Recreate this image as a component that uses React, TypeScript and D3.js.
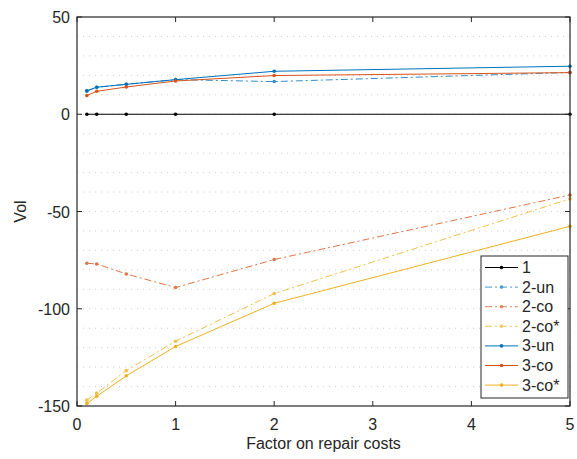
import React from "react";
import * as d3 from "d3";

const xValues = [0.1, 0.2, 0.5, 1, 2, 5];
const seriesNames = ["1", "2-un", "2-co", "2-co*", "3-un", "3-co", "3-co*"];
const s1 = [0, 0, 0, 0, 0, 0];
const s2un = [12.0, 13.9, 15.4, 17.8, 16.8, 21.5];
const s2co = [-76.6, -77.0, -82.1, -89.1, -74.7, -41.5];
const s2coStar = [-147.0, -143.4, -131.8, -116.7, -92.2, -43.5];
const s3un = [12.0, 13.9, 15.4, 17.8, 22.1, 24.7];
const s3co = [9.6, 11.8, 14.0, 17.1, 19.9, 21.4];
const s3coStar = [-148.7, -145.0, -134.5, -119.4, -97.2, -57.6];
const xTicks = [0, 1, 2, 3, 4, 5];
const yTicks = [-150, -100, -50, 0, 50];
const yMinor = d3.range(-140, 50, 10);

const seriesValues = [s1, s2un, s2co, s2coStar, s3un, s3co, s3coStar];
const colors = ["#000000", "#0072BD", "#D95319", "#EDB120", "#0072BD", "#D95319", "#EDB120"];
const dashed = [false, true, true, true, false, false, false];

export default function App() {
  const W = 577, H = 459;
  const L = 77, R = 570, T = 17, B = 406;
  const x = d3.scaleLinear().domain([0, 5]).range([L, R]);
  const y = d3.scaleLinear().domain([-150, 50]).range([B, T]);
  const line = d3.line<number>().x((_, i) => x(xValues[i])).y((d) => y(d));
  const axisColor = "#262626";
  const font = "'Liberation Sans', Arial, Helvetica, sans-serif";
  const tl = 5;

  const legX = 481, legY = 256, legW = 87, legH = 142;
  const rowH = 19.6;

  return (
    <svg width={W} height={H} style={{ position: "absolute", left: 0, top: 0, background: "#fff" }} fontFamily={font}>
      <rect x={0} y={0} width={W} height={H} fill="#fff" />
      {yMinor.map((v) => (
        <line key={"g" + v} x1={L} x2={R} y1={y(v)} y2={y(v)} stroke="#cfcfcf" strokeWidth={1} strokeDasharray="1,5" />
      ))}
      {seriesValues.map((vals, si) => (
        <g key={"s" + si} opacity={dashed[si] ? 0.8 : 1}>
          <path d={line(vals) || ""} fill="none" stroke={colors[si]} strokeWidth={1}
            strokeDasharray={dashed[si] ? "7,3,2,3" : undefined} />
          {vals.map((v, i) => (
            <circle key={i} cx={x(xValues[i])} cy={y(v)} r={1.8} fill={colors[si]} />
          ))}
        </g>
      ))}
      <rect x={L} y={T} width={R - L} height={B - T} fill="none" stroke={axisColor} strokeWidth={1.2} />
      {xTicks.map((t) => (
        <g key={"xt" + t}>
          <line x1={x(t)} x2={x(t)} y1={B} y2={B - tl} stroke={axisColor} />
          <line x1={x(t)} x2={x(t)} y1={T} y2={T + tl} stroke={axisColor} />
          <text x={x(t)} y={430} textAnchor="middle" fontSize={16} fill={axisColor}>{t}</text>
        </g>
      ))}
      {yTicks.map((t) => (
        <g key={"yt" + t}>
          <line x1={L} x2={L + tl} y1={y(t)} y2={y(t)} stroke={axisColor} />
          <line x1={R} x2={R - tl} y1={y(t)} y2={y(t)} stroke={axisColor} />
          <text x={70} y={y(t) + 6} textAnchor="end" fontSize={16} fill={axisColor}>{t}</text>
        </g>
      ))}
      <text x={(L + R) / 2} y={449} textAnchor="middle" fontSize={16} fill={axisColor}>Factor on repair costs</text>
      <text transform={`translate(26,${(T + B) / 2}) rotate(-90)`} textAnchor="middle" fontSize={16} fill={axisColor}>Vol</text>
      <rect x={legX} y={legY} width={legW} height={legH} fill="#fff" stroke={axisColor} strokeWidth={1} />
      {seriesNames.map((name, si) => {
        const cy = legY + 11.5 + si * rowH;
        return (
          <g key={"l" + si}>
            <g opacity={dashed[si] ? 0.7 : 1}>
              <line x1={485} x2={518} y1={cy} y2={cy} stroke={colors[si]} strokeWidth={1}
                strokeDasharray={dashed[si] ? "7,3,2,3" : undefined} />
              <circle cx={501.5} cy={cy} r={1.8} fill={colors[si]} />
            </g>
            <text x={522} y={cy + 5.5} fontSize={16} fill={axisColor}>{name}</text>
          </g>
        );
      })}
    </svg>
  );
}
